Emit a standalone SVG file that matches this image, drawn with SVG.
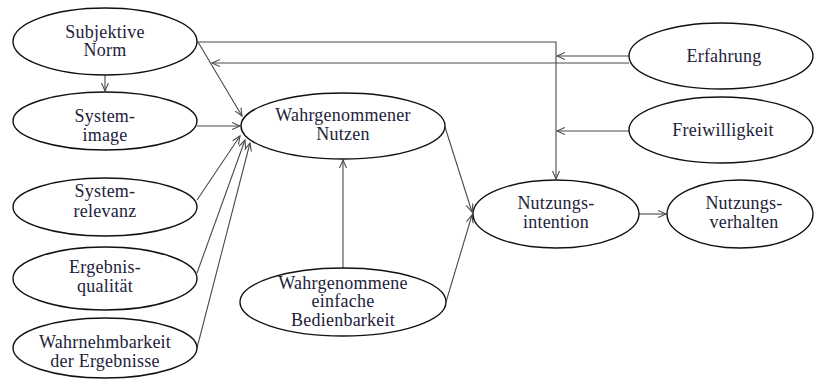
<svg xmlns="http://www.w3.org/2000/svg" width="816" height="379" viewBox="0 0 816 379">
<style>
.n{fill:#fff;stroke:#111;stroke-width:1.4}
.t{font-family:"Liberation Serif","Times New Roman",serif;font-size:18px;letter-spacing:0.25px;fill:#22223a;text-anchor:middle}
.c{fill:none;stroke:#4a4a4a;stroke-width:1.1}
</style>
<defs>
<marker id="a" markerUnits="userSpaceOnUse" markerWidth="10" markerHeight="10" refX="8" refY="4" orient="auto">
<path d="M0,0.5 L8,4 L0,7.5" fill="none" stroke="#4a4a4a" stroke-width="1.1"/>
</marker>
</defs>
<rect width="816" height="379" fill="#fff"/>
<g id="connectors">
<path class="c" d="M197,42 H556 V179" marker-end="url(#a)"/>
<path class="c" d="M629,56 H557" marker-end="url(#a)"/>
<path class="c" d="M629,63 H212" marker-end="url(#a)"/>
<path class="c" d="M629,131 H557" marker-end="url(#a)"/>
<path class="c" d="M105,75 V91" marker-end="url(#a)"/>
<path class="c" d="M198,42 L242,116" marker-end="url(#a)"/>
<path class="c" d="M197,126 H240" marker-end="url(#a)"/>
<path class="c" d="M197,200 L240,136" marker-end="url(#a)"/>
<path class="c" d="M197,273 L245,140" marker-end="url(#a)"/>
<path class="c" d="M197,348 L250,143" marker-end="url(#a)"/>
<path class="c" d="M343,268 V160" marker-end="url(#a)"/>
<path class="c" d="M445,127 L472,212" marker-end="url(#a)"/>
<path class="c" d="M446,302 L472,215" marker-end="url(#a)"/>
<path class="c" d="M639,214 H666" marker-end="url(#a)"/>
</g>
<g id="subjektive-norm"><ellipse class="n" cx="105" cy="41.5" rx="92" ry="33.5"/><text class="t" x="105" y="37.5">Subjektive</text><text class="t" x="105" y="56">Norm</text></g>
<g id="system-image"><ellipse class="n" cx="105" cy="121" rx="92" ry="29"/><text class="t" x="105" y="122">System-</text><text class="t" x="105" y="141">image</text></g>
<g id="systemrelevanz"><ellipse class="n" cx="105" cy="207" rx="92" ry="29"/><text class="t" x="105" y="197">System-</text><text class="t" x="105" y="217">relevanz</text></g>
<g id="ergebnisqualitaet"><ellipse class="n" cx="105" cy="278.5" rx="92" ry="31.5"/><text class="t" x="105" y="273">Ergebnis-</text><text class="t" x="105" y="292">qualität</text></g>
<g id="wahrnehmbarkeit"><ellipse class="n" cx="105" cy="348" rx="92" ry="30"/><text class="t" x="105" y="347.5">Wahrnehmbarkeit</text><text class="t" x="105" y="366.5">der Ergebnisse</text></g>
<g id="wahrgenommener-nutzen"><ellipse class="n" cx="343" cy="126" rx="102" ry="33"/><text class="t" x="343" y="121">Wahrgenommener</text><text class="t" x="343" y="140">Nutzen</text></g>
<g id="bedienbarkeit"><ellipse class="n" cx="343" cy="302" rx="103" ry="34"/><text class="t" x="343" y="288.5">Wahrgenommene</text><text class="t" x="343" y="307">einfache</text><text class="t" x="343" y="325.5">Bedienbarkeit</text></g>
<g id="nutzungsintention"><ellipse class="n" cx="556" cy="214" rx="83" ry="34"/><text class="t" x="556" y="209">Nutzungs-</text><text class="t" x="556" y="228">intention</text></g>
<g id="nutzungsverhalten"><ellipse class="n" cx="740" cy="214" rx="73" ry="34"/><text class="t" x="744" y="209">Nutzungs-</text><text class="t" x="744" y="228">verhalten</text></g>
<g id="erfahrung"><ellipse class="n" cx="721" cy="56" rx="92" ry="33"/><text class="t" x="724" y="62">Erfahrung</text></g>
<g id="freiwilligkeit"><ellipse class="n" cx="721" cy="130" rx="92" ry="33"/><text class="t" x="723" y="136">Freiwilligkeit</text></g>
</svg>
